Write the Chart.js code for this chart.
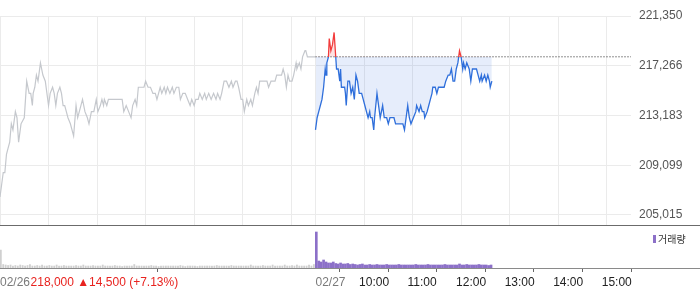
<!DOCTYPE html>
<html>
<head>
<meta charset="utf-8">
<script src="https://cdn.jsdelivr.net/npm/chart.js@4.4.1/dist/chart.umd.min.js"></script>
<style>
  body { margin: 0; background: #fff; }
  #wrap { position: relative; width: 700px; height: 289px; overflow: hidden; }
  canvas { position: absolute; left: 0; }
</style>
</head>
<body>
<div id="wrap">
  <canvas id="priceChart" width="700" height="225" style="top:0"></canvas>
  <canvas id="volumeChart" width="700" height="64" style="top:225px"></canvas>
</div>
<script>
'use strict';

// **************************** DATA ****************************

// minutes after 09:00 for each day (session is 390 minutes)
let day1Times = [0, 2, 4, 6, 8, 10, 12, 14, 16, 19, 21, 23, 26, 30, 33, 36, 38, 40, 41, 43, 45, 47, 50, 53, 56, 60, 62, 65, 67, 69, 71, 74, 76, 78, 80, 82, 84, 87, 89, 91, 94, 96, 100, 102, 105, 108, 110, 113, 116, 119, 121, 124, 126, 128, 129, 132, 134, 138, 142, 146, 151, 153, 156, 159, 162, 164, 167, 169, 171, 175, 178, 180, 183, 186, 189, 192, 194, 198, 200, 203, 205, 207, 210, 213, 215, 218, 221, 223, 226, 229, 232, 235, 237, 240, 242, 245, 247, 250, 253, 255, 258, 261, 264, 267, 269, 272, 274, 277, 280, 283, 286, 288, 291, 293, 295, 298, 300, 302, 305, 307, 310, 312, 315, 317, 319, 321, 324, 327, 330, 332, 335, 337, 340, 342, 345, 348, 350, 352, 354, 356, 358, 361, 363, 366, 367, 370, 372, 374, 377, 378, 380, 384, 390];
let day1Prices = [206500, 207500, 208500, 208500, 210000, 210500, 211000, 212500, 212000, 213500, 213000, 211000, 212500, 213000, 216000, 215000, 215000, 214000, 215000, 215500, 216500, 216000, 217500, 216500, 216000, 214000, 215000, 215500, 215000, 214000, 215000, 215500, 215000, 214000, 214000, 213500, 213000, 212500, 212000, 211500, 214000, 213000, 214000, 214500, 213500, 213000, 212500, 213500, 213500, 214500, 213500, 214000, 214500, 214000, 214500, 214000, 214500, 214500, 214500, 214500, 214500, 213500, 214000, 213500, 213000, 214000, 214500, 214000, 215500, 215500, 215500, 216000, 215500, 215500, 215000, 215000, 214500, 215500, 215000, 215500, 215000, 215500, 215000, 215500, 215000, 215500, 215500, 214500, 215000, 215000, 214500, 214000, 214500, 214000, 214500, 214500, 215000, 214500, 215000, 214500, 215000, 214500, 215000, 214500, 215000, 214500, 215000, 216000, 216000, 215500, 216000, 215500, 216000, 216000, 215500, 214500, 214500, 213500, 214500, 214000, 214500, 214000, 215000, 215500, 215000, 216000, 216000, 216000, 216000, 215500, 216000, 216000, 216000, 216500, 216500, 216500, 217000, 216500, 215500, 216500, 216000, 216000, 216500, 217500, 217000, 217500, 217000, 218000, 218500, 218500, 218000, 218000, 218000];

let day2Times = [0, 2, 4, 6, 8, 10, 12, 13, 14, 16, 17, 19, 21, 23, 25, 26, 28, 30, 31, 32, 34, 36, 37, 38, 40, 42, 44, 46, 48, 50, 52, 54, 57, 59, 61, 63, 65, 67, 68, 70, 72, 73, 76, 78, 80, 83, 85, 88, 90, 92, 95, 97, 99, 102, 104, 108, 110, 112, 114, 116, 118, 121, 124, 125, 128, 130, 132, 134, 135, 138, 140, 142, 144, 145, 148, 150, 152, 154, 157, 159, 161, 164, 166, 168, 170, 172, 174, 176, 178, 180, 182, 183, 185, 187, 190, 192, 194, 196, 199, 201, 203, 205, 206, 209, 211, 213, 215, 216, 218];
let day2Prices = [212000, 213000, 213500, 214000, 214500, 215500, 217000, 216500, 217500, 218000, 219500, 218500, 219000, 220000, 218000, 217000, 217000, 216000, 217000, 215500, 215500, 215500, 215000, 214000, 216000, 216000, 215000, 215500, 214500, 216500, 216000, 215000, 215000, 214500, 214000, 213500, 213000, 213500, 213000, 213000, 212000, 213000, 215000, 214000, 213000, 214000, 213000, 213000, 212500, 213000, 213000, 213000, 212500, 212500, 212500, 212500, 212000, 213000, 214000, 213000, 212500, 213000, 213500, 214000, 213500, 214000, 213500, 213500, 213000, 213500, 214000, 214500, 215000, 215500, 215500, 215000, 215500, 215500, 215500, 215500, 216000, 216500, 216500, 217000, 216000, 216000, 217000, 217500, 218500, 218000, 217000, 217500, 217000, 217500, 217000, 216000, 217000, 217000, 217000, 216500, 216000, 216500, 216000, 216500, 216000, 216500, 216000, 215500, 216000];

// previous close (02/26 close) and its change
let prevClose = 218000;
let prevChange = 14500;
let prevChangePct = 7.13;

// volume, one bar per 3 minutes
let volumeStep = 3;
let day1Volume = [90000, 17500, 15000, 12500, 15000, 10000, 12500, 10000, 15000, 12500,
  10000, 12500, 17500, 10000, 10000, 12500, 10000, 15000, 10000, 10000,
  12500, 10000, 10000, 15000, 10000, 10000, 12500, 10000, 10000, 10000,
  10000, 12500, 10000, 10000, 15000, 10000, 10000, 10000, 12500, 10000,
  10000, 10000, 15000, 10000, 10000, 10000, 10000, 12500, 10000, 10000,
  7500, 10000, 10000, 10000, 10000, 17500, 10000, 10000, 10000, 10000,
  10000, 10000, 12500, 10000, 10000, 7500, 10000, 10000, 10000, 10000,
  10000, 10000, 10000, 10000, 12500, 10000, 7500, 10000, 10000, 10000,
  10000, 7500, 10000, 10000, 10000, 10000, 10000, 10000, 10000, 12500,
  10000, 10000, 10000, 10000, 10000, 12500, 10000, 10000, 10000, 10000,
  10000, 10000, 10000, 15000, 10000, 10000, 10000, 10000, 12500, 10000,
  10000, 10000, 15000, 10000, 10000, 10000, 10000, 15000, 10000, 10000,
  12500, 10000, 15000, 10000, 10000, 10000, 10000, 15000, 10000, 17500];
let day2Volume = [180000, 35000, 30000, 40000, 30000, 25000, 25000, 30000, 22500, 20000,
  25000, 20000, 20000, 22500, 17500, 20000, 17500, 15000, 17500, 20000,
  15000, 15000, 17500, 15000, 15000, 17500, 15000, 15000, 15000, 17500,
  15000, 15000, 15000, 15000, 17500, 15000, 15000, 15000, 15000, 15000,
  15000, 17500, 15000, 15000, 15000, 15000, 17500, 15000, 15000, 15000,
  15000, 15000, 15000, 17500, 15000, 15000, 15000, 15000, 15000, 20000,
  15000, 15000, 17500, 15000, 15000, 15000, 15000, 17500, 15000, 15000,
  15000, 12500, 15000];

// axis ticks and labels
let priceTicks = [205015, 209099, 213183, 217266, 221350];
let priceMin = 204194;
let sessionLength = 390;
let hourTicks = [60, 120, 180, 240, 300, 360];
let dayLabels = ['02/26', '02/27'];
let hourLabels = ['10:00', '11:00', '12:00', '13:00', '14:00', '15:00'];

// **************************** HELPERS ****************************

let grayLine = '#c5c8cd';
let blueLine = '#2f6fdb';
let redLine = '#f23b3b';
let purple = '#8c70c8';
let labelFont = '12px "Liberation Sans", Arial, sans-serif';

function toPoints(times, values, dayIndex) {
  let points = [];
  for (let i = 0; i < times.length; i++) {
    points.push({ x: dayIndex * sessionLength + times[i], y: values[i] });
  }
  return points;
}

function toVolumePoints(values, dayIndex) {
  let points = [];
  for (let i = 0; i < values.length; i++) {
    points.push({ x: dayIndex * sessionLength + i * volumeStep + 1, y: values[i] });
  }
  return points;
}

function gridTicks() {
  let ticks = [{ value: 0 }];
  hourTicks.forEach(h => ticks.push({ value: h }));
  ticks.push({ value: sessionLength });
  hourTicks.forEach(h => ticks.push({ value: sessionLength + h }));
  return ticks;
}

// red above the previous close, blue below
function splitColor(context) {
  let chart = context.chart;
  let area = chart.chartArea;
  if (!area) {
    return blueLine;
  }
  let yPix = chart.scales.y.getPixelForValue(prevClose);
  let r = (yPix - area.top) / (area.bottom - area.top);
  r = Math.min(Math.max(r, 0), 1);
  let g = chart.ctx.createLinearGradient(0, area.top, 0, area.bottom);
  g.addColorStop(0, redLine);
  g.addColorStop(r, redLine);
  g.addColorStop(r, blueLine);
  g.addColorStop(1, blueLine);
  return g;
}

// **************************** PRICE CHART ****************************

new Chart(document.getElementById('priceChart'), {
  type: 'line',
  data: {
    datasets: [{
      data: toPoints(day1Times, day1Prices, 0),
      borderColor: grayLine,
      borderWidth: 1.2,
      pointRadius: 0,
      fill: false
    },
    {
      data: toPoints(day2Times, day2Prices, 1),
      borderColor: splitColor,
      borderWidth: 1.3,
      pointRadius: 0,
      fill: {
        target: { value: prevClose },
        above: 'rgba(240, 60, 60, 0.15)',
        below: 'rgba(50, 110, 220, 0.12)'
      }
    },
    {
      data: [{ x: sessionLength, y: prevClose }, { x: sessionLength * 2, y: prevClose }],
      borderColor: '#222',
      borderWidth: 1,
      borderDash: [1, 2],
      pointRadius: 0,
      fill: false
    }]
  },
  options: {
    responsive: false,
    animation: false,
    events: [],
    layout: { padding: { top: 16, left: 0, right: 0, bottom: 0 } },
    plugins: { legend: { display: false }, tooltip: { enabled: false } },
    scales: {
      x: {
        type: 'linear',
        min: 0,
        max: sessionLength * 2,
        afterBuildTicks: scale => { scale.ticks = gridTicks(); },
        afterFit: scale => { scale.height = 0; },
        ticks: { display: false },
        grid: { color: '#ebebeb', drawTicks: false },
        border: { display: false }
      },
      y: {
        position: 'right',
        min: priceMin,
        max: priceTicks[priceTicks.length - 1],
        afterBuildTicks: scale => { scale.ticks = priceTicks.map(v => ({ value: v })); },
        afterFit: scale => {
          scale.width = 69;
          scale.paddingTop = 0;
          scale.paddingBottom = 0;
        },
        ticks: {
          padding: 8,
          color: '#555',
          font: { family: '"Liberation Sans", Arial, sans-serif', size: 12 },
          callback: v => v.toLocaleString('en-US')
        },
        grid: { color: '#ebebeb', drawTicks: false },
        border: { display: false }
      }
    }
  }
});

// **************************** VOLUME CHART ****************************

let volumeDecor = {
  id: 'volumeDecor',
  afterDraw(chart) {
    let ctx = chart.ctx;
    let x = chart.scales.x;
    let bottom = chart.chartArea.bottom;
    ctx.save();
    // panel separator and axis line
    ctx.fillStyle = '#6b6b6b';
    ctx.fillRect(0, 0, chart.width, 1);
    ctx.fillStyle = '#8a8a8a';
    ctx.fillRect(0, bottom, chart.width, 1);

    // axis labels
    ctx.font = labelFont;
    ctx.textBaseline = 'middle';
    ctx.textAlign = 'left';
    let ty = 58;
    ctx.fillStyle = '#7a7a7a';
    ctx.fillText(dayLabels[0], x.getPixelForValue(0), ty);
    let w = ctx.measureText(dayLabels[0]).width;
    ctx.fillStyle = '#e8231f';
    let info = prevClose.toLocaleString('en-US') + ' \u25B2' + prevChange.toLocaleString('en-US') +
      ' (+' + prevChangePct.toFixed(2) + '%)';
    ctx.fillText(info, w + 0.5, ty);

    ctx.fillStyle = '#7a7a7a';
    ctx.fillText(dayLabels[1], x.getPixelForValue(sessionLength), ty);
    ctx.fillStyle = '#222';
    for (let i = 0; i < hourLabels.length; i++) {
      ctx.fillText(hourLabels[i], x.getPixelForValue(sessionLength + hourTicks[i]) - 5, ty);
    }

    // legend
    ctx.fillStyle = purple;
    ctx.fillRect(653, 10, 3, 8);
    ctx.fillStyle = '#333';
    ctx.font = '10px "Noto Sans CJK KR", sans-serif';
    ctx.fillText('거래량', 658, 14);
    ctx.restore();
  }
};

new Chart(document.getElementById('volumeChart'), {
  type: 'bar',
  data: {
    datasets: [{
      data: toVolumePoints(day1Volume, 0),
      backgroundColor: '#d0d0d0',
      barThickness: 1.2,
      grouped: false
    },
    {
      data: toVolumePoints(day2Volume, 1),
      backgroundColor: purple,
      barThickness: 2,
      grouped: false
    }]
  },
  options: {
    responsive: false,
    animation: false,
    events: [],
    layout: { padding: { top: 1, left: 0, right: 69, bottom: 0 } },
    plugins: { legend: { display: false }, tooltip: { enabled: false } },
    scales: {
      x: {
        type: 'linear',
        min: 0,
        max: sessionLength * 2,
        offset: false,
        afterBuildTicks: scale => {
          scale.ticks = [{ value: 0 }, { value: sessionLength }].concat(hourTicks.map(h => ({ value: sessionLength + h })));
        },
        afterFit: scale => { scale.height = 21; },
        ticks: { display: false },
        grid: { drawOnChartArea: false, drawTicks: true, tickLength: 4, color: '#666' },
        border: { display: false }
      },
      y: {
        display: false,
        min: 0,
        max: 210000
      }
    }
  },
  plugins: [volumeDecor]
});
</script>
</body>
</html>
